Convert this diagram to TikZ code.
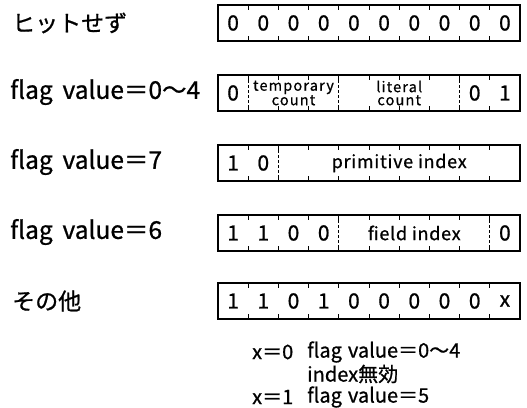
\documentclass[tikz,border=0pt]{standalone}
\usepackage{fontspec}
\setmainfont{Noto Sans CJK JP}
\newfontfamily\heavy[FakeBold=0.8]{Noto Sans CJK JP}
\newcommand{\fs}[1]{\fontsize{#1}{#1}\selectfont}

\begin{document}
\begin{tikzpicture}[x=1pt,y=-1pt,
  rowbox/.style={draw, line width=1.3pt},
  celltick/.style={line width=0.9pt},
  fieldsep/.style={line width=0.9pt, dash pattern=on 3pt off 2pt},
  bitval/.style={inner sep=0pt, font=\heavy\fs{21}},
  fieldname/.style={inner sep=0pt, align=center, font=\heavy\fs{18}\addfontfeature{LetterSpace=4}},
  smallname/.style={inner sep=0pt, align=center, font=\heavy\fs{14.5}\linespread{0.9}\selectfont\addfontfeature{LetterSpace=8}},
  rowlabel/.style={anchor=west, inner sep=0pt, font=\heavy\fs{24.5}},
  jplabel/.style={anchor=west, inner sep=0pt, font=\heavy\fs{23}},
  note/.style={anchor=west, inner sep=0pt, font=\heavy\fs{20}}]
  \useasboundingbox (0,0) rectangle (527,407);
  % the five registers, ten bits each
  \foreach \t in {5,75,145,215,283} {
    \draw[rowbox] (218,\t) rectangle (520,\t+36);
    \foreach \k in {1,...,9}
      \draw[celltick] (218+30.2*\k,\t) -- ++(0,5)
                      (218+30.2*\k,\t+36) -- ++(0,-5);
  }
  % row labels
  \node[jplabel] (miss) at (12,23) {ヒットせず};
  \node[rowlabel] (flag04) at (10,92) {flag\hspace{0.4em}value＝0～4};
  \node[rowlabel] (flag7) at (10,162) {flag\hspace{0.4em}value＝7};
  \node[rowlabel] (flag6) at (10,232) {flag\hspace{0.4em}value＝6};
  \node[jplabel] (other) at (12,301) {その他};
  % no hit
  \foreach \k in {1,...,10}
    \node[bitval] (miss-\k) at (218+30.2*\k-15.1,23) {0};
  % flag value 0-4
  \draw[fieldsep] (218+30.2*1,75) -- (218+30.2*1,111)
                  (218+30.2*4,75) -- (218+30.2*4,111)
                  (218+30.2*8,75) -- (218+30.2*8,111);
  \node[bitval] (f04-1) at (218+30.2*0.5,93) {0};
  \node[smallname] (tmpcount) at (218+30.2*2.5,93) {temporary\\count};
  \node[smallname] (litcount) at (218+30.2*6,93) {literal\\count};
  \node[bitval] (f04-9) at (218+30.2*8.5,93) {0};
  \node[bitval] (f04-10) at (218+30.2*9.5,93) {1};
  % flag value 7
  \draw[fieldsep] (218+30.2*2,145) -- (218+30.2*2,181);
  \node[bitval] (f7-1) at (218+30.2*0.5,163) {1};
  \node[bitval] (f7-2) at (218+30.2*1.5,163) {0};
  \node[fieldname] (primidx) at (218+30.2*6,163) {primitive index};
  % flag value 6
  \draw[fieldsep] (218+30.2*4,215) -- (218+30.2*4,251)
                  (218+30.2*9,215) -- (218+30.2*9,251);
  \foreach \v [count=\k] in {1,1,0,0}
    \node[bitval] (f6-\k) at (218+30.2*\k-15.1,233) {\v};
  \node[fieldname] (fieldidx) at (218+30.2*6.5,233) {field index};
  \node[bitval] (f6-10) at (218+30.2*9.5,233) {0};
  % other
  \foreach \v [count=\k] in {1,1,0,1,0,0,0,0,0,x}
    \node[bitval] (oth-\k) at (218+30.2*\k-15.1,301) {\v};
  % notes on x
  \node[note] (x0) at (252,352) {x＝0};
  \node[note] (x0txt) at (307,352) {flag\hspace{0.3em}value＝0～4};
  \node[note] (x0inv) at (307,374) {index無効};
  \node[note] (x1) at (252,397) {x＝1};
  \node[note] (x1txt) at (307,397) {flag\hspace{0.3em}value＝5};
\end{tikzpicture}
\end{document}
